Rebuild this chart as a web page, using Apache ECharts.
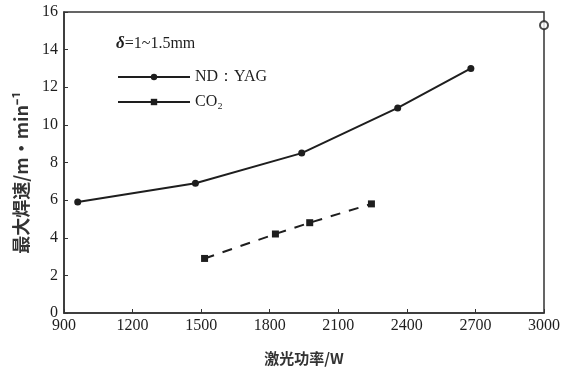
<!DOCTYPE html>
<html><head><meta charset="utf-8">
<script src="https://cdn.jsdelivr.net/npm/echarts@6/dist/echarts.min.js"></script>
<style>html,body{margin:0;padding:0;background:#fff}#c{width:572px;height:388px}</style>
</head><body><div id="c"></div>
<script>
const ndyagPower = [960, 1475, 1940, 2360, 2680];
const ndyagSpeed = [5.9, 6.9, 8.5, 10.9, 13.0];
const co2Power = [1515, 1825, 1975, 2245];
const co2Speed = [2.9, 4.2, 4.8, 5.8];
const extraPower = [3000];
const extraSpeed = [15.3];
const seriesNames = ['ND：YAG', 'CO₂'];
const xTitle = '激光功率/W';
const yTitle = '最大焊速/m·min⁻¹';
const noteSymbol = 'δ';
const noteText = '=1~1.5mm';

const pair = (xs, ys) => xs.map((x, i) => [x, ys[i]]);
const ink = '#1e1e1e';
const serif = '"Liberation Serif", "DejaVu Serif", serif';
const cjk = '"Noto Sans CJK SC", sans-serif';

const chart = echarts.init(document.getElementById('c'));
chart.setOption({
  animation: false,
  backgroundColor: '#fff',
  grid: { left: 64, right: 28, top: 12, bottom: 75, show: true, borderColor: '#333', borderWidth: 1.5 },
  xAxis: {
    type: 'value', min: 900, max: 3000, interval: 300,
    name: xTitle, nameLocation: 'middle', nameGap: 38,
    nameTextStyle: { fontFamily: cjk, fontSize: 15, fontWeight: 'bold', color: '#333' },
    axisLine: { lineStyle: { color: '#333', width: 1.5 } },
    axisTick: { inside: true, length: 4, lineStyle: { color: '#333' } },
    axisLabel: { fontFamily: serif, fontSize: 16, color: ink, margin: 5, formatter: v => String(v) },
    splitLine: { show: false }
  },
  yAxis: {
    type: 'value', min: 0, max: 16, interval: 2,
    name: yTitle, nameLocation: 'middle', nameGap: 34, nameRotate: 90,
    nameTextStyle: { fontFamily: cjk, fontSize: 18, fontWeight: 'bold', color: '#333', padding: [0, 20, 0, 0] },
    axisLine: { lineStyle: { color: '#333', width: 1.5 } },
    axisTick: { inside: true, length: 4, lineStyle: { color: '#333' } },
    axisLabel: { fontFamily: serif, fontSize: 16, color: ink, margin: 6 },
    splitLine: { show: false }
  },
  legend: {
    orient: 'vertical', left: 112, top: 64, itemWidth: 72, itemHeight: 8, itemGap: 9,
    data: seriesNames,
    lineStyle: { type: 'solid', width: 2 },
    textStyle: { fontFamily: serif, fontSize: 16, color: ink }
  },
  graphic: [{
    type: 'text', left: 116, top: 35,
    style: {
      text: '{d|' + noteSymbol + '}' + noteText,
      rich: { d: { fontFamily: serif, fontSize: 17, fontStyle: 'italic', fontWeight: 'bold', fill: ink } },
      fontFamily: serif, fontSize: 16, fill: ink
    }
  }],
  series: [
    {
      name: seriesNames[0], type: 'line', data: pair(ndyagPower, ndyagSpeed),
      symbol: 'circle', symbolSize: 7,
      lineStyle: { color: ink, width: 2 }, itemStyle: { color: ink }
    },
    {
      name: seriesNames[1], type: 'line', data: pair(co2Power, co2Speed),
      symbol: 'rect', symbolSize: 7,
      lineStyle: { color: ink, width: 2, type: [10, 9] }, itemStyle: { color: ink }
    },
    {
      name: 'extra', type: 'scatter', data: pair(extraPower, extraSpeed), clip: false,
      symbol: 'emptyCircle', symbolSize: 8, z: 5,
      itemStyle: { color: ink, borderColor: ink, borderWidth: 1.8 }
    }
  ]
});
</script></body></html>
